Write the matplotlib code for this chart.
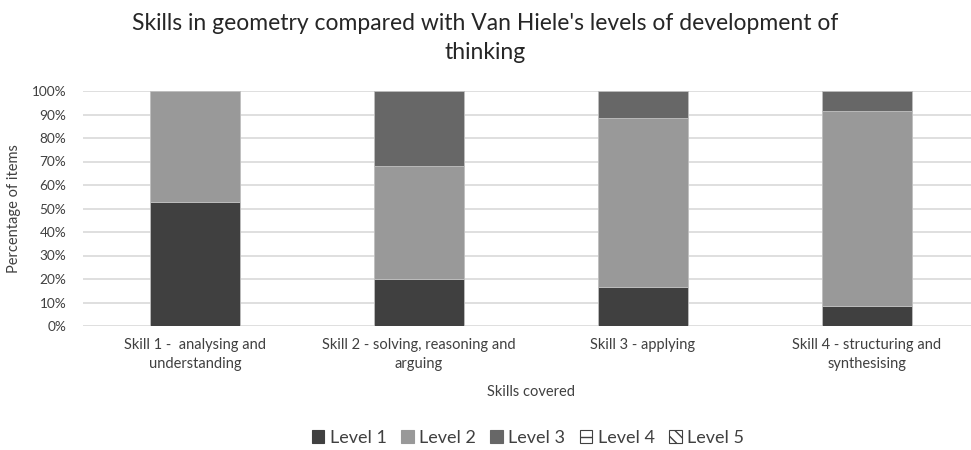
import matplotlib
matplotlib.use("Agg")
import matplotlib.pyplot as plt
from matplotlib.patches import Patch
import numpy as np

plt.rcParams['font.family'] = ['Lato', 'DejaVu Sans']

# Data (percentage of items)
skills = ['Skill 1 -  analysing and\nunderstanding',
          'Skill 2 - solving, reasoning and\narguing',
          'Skill 3 - applying',
          'Skill 4 - structuring and\nsynthesising']
level1 = [52.6, 20.0, 16.7, 8.3]
level2 = [47.4, 48.2, 71.7, 83.4]
level3 = [0.0, 31.8, 11.6, 8.3]
level4 = [0.0, 0.0, 0.0, 0.0]
level5 = [0.0, 0.0, 0.0, 0.0]

text_col = '#404040'

fig = plt.figure(figsize=(9.71, 4.5), dpi=100)
ax = fig.add_axes([83 / 971, 1 - 326 / 450, 896 / 971, 235 / 450])

x = np.arange(len(skills))
w = 0.40
edge = '#bfbfbf'
series = [level1, level2, level3, level4, level5]
colors = ['#404040', '#999999', '#676767', 'white', 'white']
hatches = [None, None, None, '--', '\\\\\\']
names = ['Level 1', 'Level 2', 'Level 3', 'Level 4', 'Level 5']

bottom = np.zeros(len(skills))
for vals, c, h, n in zip(series, colors, hatches, names):
    vals = np.array(vals)
    lw = np.where(vals > 0, 0.6, 0.0)
    ax.bar(x, vals, w, bottom=bottom, color=c, edgecolor=edge, hatch=h,
           linewidth=lw, label=n, zorder=3)
    bottom = bottom + vals

ax.set_xlim(-0.5, 3.5)
ax.set_ylim(0, 100)
ax.set_yticks(np.arange(0, 101, 10))
ax.set_yticklabels([f'{v}%' for v in range(0, 101, 10)])
ax.set_xticks(x)
ax.set_xticklabels(skills, linespacing=1.45)
ax.tick_params(axis='both', length=0, colors=text_col)
ax.tick_params(axis='x', pad=9, labelsize=10.5)
ax.tick_params(axis='y', pad=12, labelsize=9.8)
ax.grid(axis='y', color='#d9d9d9', linewidth=1.2, zorder=0)
for s in ax.spines.values():
    s.set_visible(False)

ax.set_ylabel('Percentage of items', fontsize=10.5, color=text_col, labelpad=8)
ax.set_xlabel('Skills covered', fontsize=10.5, color=text_col, labelpad=10)

fig.suptitle("Skills in geometry compared with Van Hiele's levels of development of\nthinking",
             fontsize=16.5, color='#262626', y=0.97, linespacing=1.45)

handles = [Patch(facecolor=c, edgecolor=('#404040' if h else c), hatch=h, linewidth=0.8, label=n)
           for c, h, n in zip(colors, hatches, names)]
fig.legend(handles=handles, loc='center', bbox_to_anchor=(528 / 971, 1 - 438 / 450),
           ncol=5, frameon=False, fontsize=13, handlelength=0.7, handleheight=0.7,
           handletextpad=0.3, columnspacing=0.8, labelcolor=text_col)

fig.savefig('out.png', dpi=100)
